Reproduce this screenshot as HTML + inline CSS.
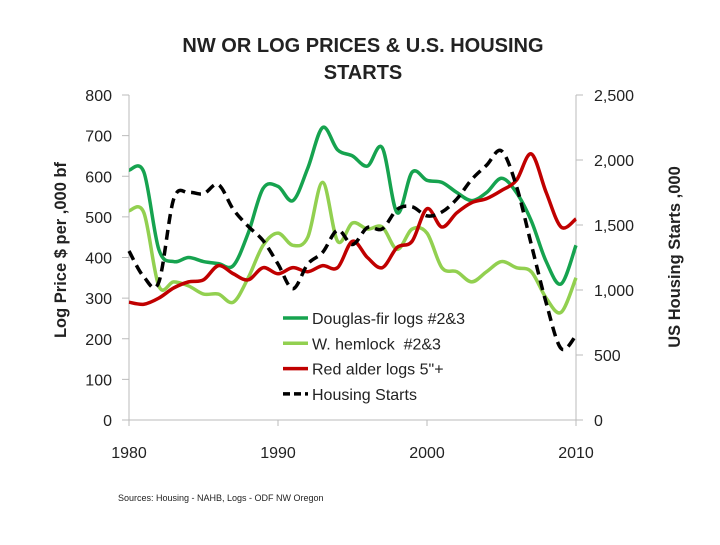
<!DOCTYPE html>
<html><head><meta charset="utf-8"><style>
body{margin:0;background:#fff;width:720px;height:540px;overflow:hidden}
svg{font-family:"Liberation Sans",Arial,sans-serif}
</style></head><body>
<svg id="chart" width="720" height="540">
<text x="363" y="52" text-anchor="middle" font-size="20" font-weight="bold" fill="#222">NW OR LOG PRICES &amp; U.S. HOUSING</text>
<text x="363" y="79" text-anchor="middle" font-size="20" font-weight="bold" fill="#222">STARTS</text>
<text transform="translate(66,250) rotate(-90)" text-anchor="middle" font-size="16.5" font-weight="bold" fill="#222">Log Price $ per ,000 bf</text>
<text transform="translate(680,257) rotate(-90)" text-anchor="middle" font-size="16.5" font-weight="bold" fill="#222">US Housing Starts ,000</text>
<text x="118" y="501" font-size="9" fill="#222">Sources: Housing - NAHB, Logs - ODF NW Oregon</text>
<g id="axes"></g>
<g id="series"></g>
<g id="legend"></g>
</svg>
<script>
const years=[1980,1981,1982,1983,1984,1985,1986,1987,1988,1989,1990,1991,1992,1993,1994,1995,1996,1997,1998,1999,2000,2001,2002,2003,2004,2005,2006,2007,2008,2009,2010];
const douglasFir=[615,610,420,390,400,390,385,380,460,570,575,540,620,720,665,650,625,670,510,610,590,585,560,540,560,595,560,490,390,335,430];
const hemlock=[515,510,330,340,330,310,310,290,350,430,460,430,450,585,440,485,470,475,420,470,460,375,365,340,365,390,375,365,300,265,350];
const redAlder=[290,285,300,325,340,345,380,360,345,375,360,375,365,380,375,440,400,375,425,440,520,475,510,535,545,565,590,655,560,475,495];
const housing=[1300,1100,1060,1700,1750,1740,1810,1620,1490,1380,1200,1010,1200,1290,1460,1350,1480,1470,1620,1640,1570,1600,1700,1850,1960,2070,1800,1350,900,550,650];
const leftTicks=[0,100,200,300,400,500,600,700,800];
const rightTicks=[0,500,1000,1500,2000,2500];
const rightLabels=["0","500","1,000","1,500","2,000","2,500"];
const xTicks=[1980,1990,2000,2010];
const legendLabels=["Douglas-fir logs #2&3","W. hemlock  #2&3","Red alder logs 5\"+","Housing Starts"];

const X0=129,X1=576,Y0=420,Y1=95;
const xs=y=>X0+(y-1980)/30*(X1-X0);
const yl=v=>Y0-v/800*(Y0-Y1);
const yr=v=>Y0-v/2500*(Y0-Y1);
const NS="http://www.w3.org/2000/svg";
function mk(tag,attrs,parent){const e=document.createElementNS(NS,tag);for(const k in attrs)e.setAttribute(k,attrs[k]);parent.appendChild(e);return e;}
const axes=document.getElementById('axes');
let e=mk('line',{x1:X0,y1:Y1,x2:X0,y2:Y0,stroke:'#bbb'},axes);


e=mk('line',{x1:X1,y1:Y1,x2:X1,y2:Y0,stroke:'#bbb'},axes);


e=mk('line',{x1:X0,y1:Y0,x2:X1,y2:Y0,stroke:'#bbb'},axes);


leftTicks.forEach(v=>{
  mk('line',{x1:X0-7,x2:X0,y1:yl(v),y2:yl(v),stroke:'#bbb'},axes);
  const t=mk('text',{x:112,y:yl(v)+6,'text-anchor':'end','font-size':16,fill:'#222'},axes);
  t.textContent=v;
  
  
});
rightTicks.forEach((v,i)=>{
  mk('line',{x1:X1,x2:X1+7,y1:yr(v),y2:yr(v),stroke:'#bbb'},axes);
  const t=mk('text',{x:594,y:yr(v)+6,'font-size':16,fill:'#222'},axes);
  t.textContent=rightLabels[i];
  
  
});
xTicks.forEach(v=>{
  mk('line',{x1:xs(v),x2:xs(v),y1:Y0,y2:Y0+6,stroke:'#bbb'},axes);
  const t=mk('text',{x:xs(v),y:458,'text-anchor':'middle','font-size':16,fill:'#222'},axes);
  t.textContent=v;
  
  
});
function smooth(pts){
  let d=`M${pts[0][0]},${pts[0][1]}`;
  for(let i=0;i<pts.length-1;i++){
    const p0=pts[Math.max(0,i-1)],p1=pts[i],p2=pts[i+1],p3=pts[Math.min(pts.length-1,i+2)];
    const c1=[p1[0]+(p2[0]-p0[0])/6,p1[1]+(p2[1]-p0[1])/6];
    const c2=[p2[0]-(p3[0]-p1[0])/6,p2[1]-(p3[1]-p1[1])/6];
    d+=`C${c1[0]},${c1[1]} ${c2[0]},${c2[1]} ${p2[0]},${p2[1]}`;
  }
  return d;
}
const sg=document.getElementById('series');
const defs=[
 {vals:douglasFir,sc:yl,col:'#16a34f',dash:null,name:'series-douglas-fir'},
 {vals:hemlock,sc:yl,col:'#92d050',dash:null,name:'series-w-hemlock'},
 {vals:redAlder,sc:yl,col:'#c00000',dash:null,name:'series-red-alder'},
 {vals:housing,sc:yr,col:'#000',dash:'10,6',name:'series-housing-starts'}
];
defs.forEach(s=>{
  const p=mk('path',{d:smooth(years.map((y,i)=>[xs(y),s.sc(s.vals[i])])),fill:'none',stroke:s.col,'stroke-width':3.5,'stroke-linejoin':'round'},sg);
  if(s.dash)p.setAttribute('stroke-dasharray',s.dash);
  
  
});
const lg=document.getElementById('legend');
defs.forEach((s,i)=>{
  const y=318+i*25.3;
  const l=mk('line',{x1:283,x2:308,y1:y,y2:y,stroke:s.col,'stroke-width':3.5},lg);
  if(s.dash)l.setAttribute('stroke-dasharray','7,4');
  
  
  const t=mk('text',{x:312,y:y+6,'font-size':16,fill:'#222','white-space':'pre'},lg);
  t.style.whiteSpace='pre';
  t.textContent=legendLabels[i];
  
  
});
</script>
</body></html>
